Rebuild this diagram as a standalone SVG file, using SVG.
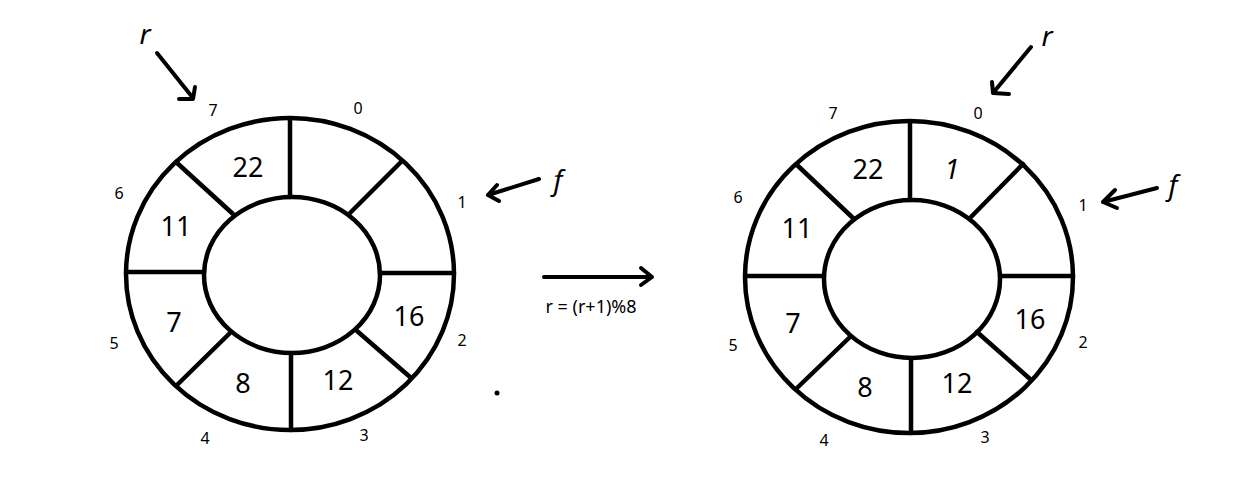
<svg xmlns="http://www.w3.org/2000/svg" width="1247" height="499" viewBox="0 0 1247 499">
<style>
.ring{fill:none;stroke:#000;stroke-width:4.5}
.sp{stroke:#000;stroke-width:4.5;stroke-linecap:round}
.ar{fill:none;stroke:#000;stroke-width:4;stroke-linecap:round;stroke-linejoin:round}
.val{font-family:"Noto Sans","Open Sans",sans-serif;font-size:27px;fill:#000;text-anchor:middle}
.idx{font-family:"Noto Sans","Open Sans",sans-serif;font-size:16px;fill:#000;text-anchor:middle}
.ptr{font-family:"Noto Sans","Open Sans",sans-serif;font-size:28px;font-style:italic;fill:#000;text-anchor:middle}
.eq{font-family:"Noto Sans","Open Sans",sans-serif;font-size:18px;fill:#000;text-anchor:middle}
</style>
<rect width="1247" height="499" fill="#fff"/>
<g id="queue-before">
<ellipse class="ring" cx="290" cy="274" rx="164" ry="156"/>
<ellipse class="ring" cx="292" cy="275" rx="88" ry="78"/>
<line class="sp" x1="290" y1="118" x2="290" y2="197"/>
<line class="sp" x1="402" y1="161" x2="350" y2="213"/>
<line class="sp" x1="380" y1="273" x2="454" y2="273"/>
<line class="sp" x1="357" y1="331" x2="410" y2="377"/>
<line class="sp" x1="291" y1="353" x2="291" y2="430"/>
<line class="sp" x1="230" y1="333" x2="177" y2="385"/>
<line class="sp" x1="126" y1="272" x2="204" y2="272"/>
<line class="sp" x1="176" y1="162" x2="233" y2="214"/>
<text class="val" x="248" y="177">22</text>
<text class="val" x="176" y="236">11</text>
<text class="val" x="174" y="332">7</text>
<text class="val" x="243" y="393">8</text>
<text class="val" x="338" y="390">12</text>
<text class="val" x="409" y="326">16</text>
<text class="idx" x="358" y="114">0</text>
<text class="idx" x="462" y="208">1</text>
<text class="idx" x="462" y="346">2</text>
<text class="idx" x="364" y="441">3</text>
<text class="idx" x="205" y="444">4</text>
<text class="idx" x="114" y="349">5</text>
<text class="idx" x="119" y="199">6</text>
<text class="idx" x="213" y="116">7</text>
</g>
<g id="queue-after">
<ellipse class="ring" cx="909" cy="277" rx="164" ry="156"/>
<ellipse class="ring" cx="912" cy="279" rx="88" ry="79"/>
<line class="sp" x1="910" y1="122" x2="910" y2="200"/>
<line class="sp" x1="1023" y1="164" x2="971" y2="217"/>
<line class="sp" x1="1000" y1="276" x2="1073" y2="276"/>
<line class="sp" x1="977" y1="332" x2="1030" y2="379"/>
<line class="sp" x1="911" y1="358" x2="911" y2="433"/>
<line class="sp" x1="850" y1="337" x2="797" y2="388"/>
<line class="sp" x1="746" y1="276" x2="824" y2="276"/>
<line class="sp" x1="797" y1="165" x2="853" y2="218"/>
<text class="val" x="868" y="179">22</text>
<text class="val" x="952" y="179" font-style="italic">1</text>
<text class="val" x="797" y="238">11</text>
<text class="val" x="793" y="333">7</text>
<text class="val" x="865" y="397">8</text>
<text class="val" x="957" y="393">12</text>
<text class="val" x="1030" y="329">16</text>
<text class="idx" x="978" y="119">0</text>
<text class="idx" x="1083" y="211">1</text>
<text class="idx" x="1083" y="348">2</text>
<text class="idx" x="985" y="443">3</text>
<text class="idx" x="824" y="446">4</text>
<text class="idx" x="733" y="351">5</text>
<text class="idx" x="738" y="203">6</text>
<text class="idx" x="833" y="119">7</text>
</g>
<g id="pointers">
<text class="ptr" x="145" y="44">r</text>
<text class="ptr" x="558" y="190">f</text>
<text class="ptr" x="1047" y="46">r</text>
<text class="ptr" x="1173" y="195">f</text>
</g>
<g id="connectors">
<path class="ar" d="M157 53 L193 98 M195 87 L193 99 L179 99"/>
<path class="ar" d="M539 179 L488 195 M497 185 L488 195 L499 201"/>
<path class="ar" d="M1031 47 L993 93 M992 82 L993 93 L1009 94"/>
<path class="ar" d="M1157 188 L1103 202 M1115 190 L1103 202 L1117 208"/>
<path class="ar" d="M544 277 L652 277 M641 268 L652 277 L641 285" stroke-width="2.5"/>
<text class="eq" x="591" y="313">r = (r+1)%8</text>
<circle cx="497" cy="393" r="2.5" fill="#000"/>
</g>
</svg>
